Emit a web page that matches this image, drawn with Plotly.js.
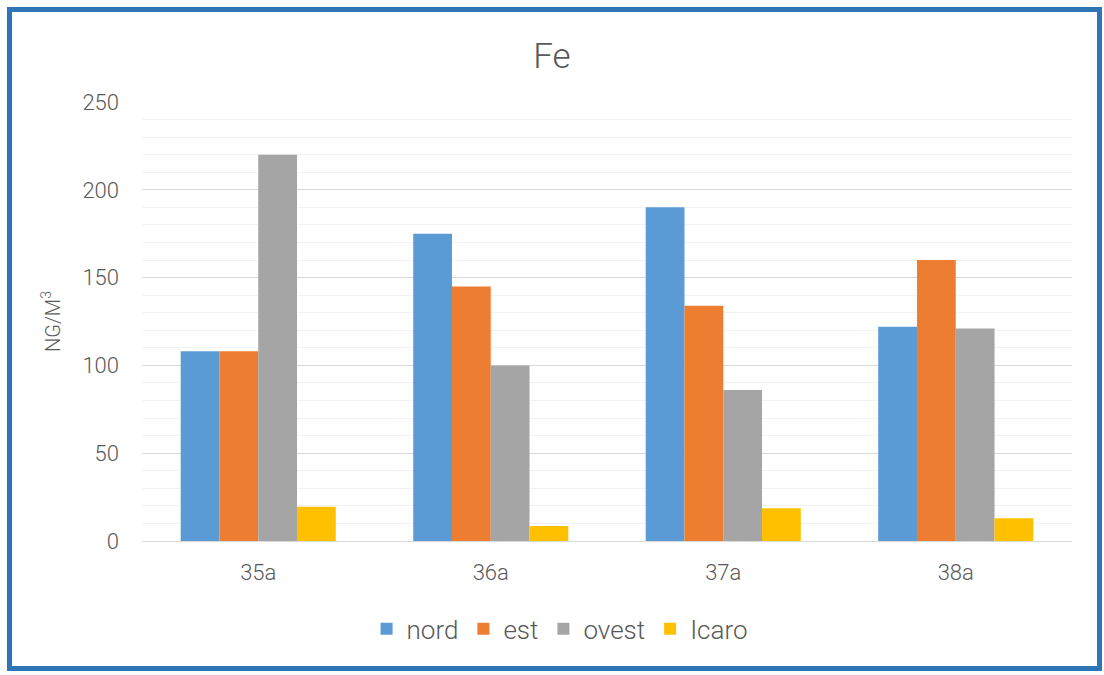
<!DOCTYPE html>
<html>
<head>
<meta charset="utf-8">
<script src="https://cdn.plot.ly/plotly-3.0.1.min.js"></script>
<style>
html,body{margin:0;padding:0;background:#fff;}
#wrap{position:absolute;left:0;top:0;width:1104px;height:675px;}
#frame{position:absolute;left:7px;top:7px;width:1085px;height:654px;border:5px solid #2E75B6;pointer-events:none;z-index:10;}
#chart{position:absolute;left:0;top:0;width:1104px;height:675px;}
</style>
</head>
<body>
<div id="wrap">
<div id="chart"></div>
<div id="frame"></div>
</div>
<script>
const categories = ["35a", "36a", "37a", "38a"];
const nord  = [108, 175, 190, 122];
const est   = [108, 145, 134, 160];
const ovest = [220, 100, 86, 121];
const icaro = [19.5, 8.5, 18.6, 13];
const seriesNames = ["nord", "est", "ovest", "Icaro"];
const colors = ["#5B9BD5", "#ED7D31", "#A5A5A5", "#FFC000"];
const yTicks = [0, 50, 100, 150, 200, 250];

const values = [nord, est, ovest, icaro];
const traces = values.map((v, i) => ({
  type: "bar",
  name: seriesNames[i],
  x: categories,
  y: v,
  marker: {color: colors[i], line: {width: 0}},
  hoverinfo: "x+y+name"
}));

const font = "Roboto, 'Open Sans', sans-serif";
const txt = "#595959";
const w = 300;
const layout = {
  width: 1104, height: 675,
  paper_bgcolor: "#fff", plot_bgcolor: "#fff",
  margin: {l: 142, r: 32, t: 102, b: 134},
  title: {text: "Fe", font: {family: font, size: 35, color: txt, weight: w}, x: 0.5, xanchor: "center", xref: "container", y: 0.918, yanchor: "middle"},
  barmode: "group",
  bargap: 0.333,
  bargroupgap: 0,
  showlegend: true,
  legend: {orientation: "h", x: 0.449, xanchor: "center", y: -0.2, yanchor: "middle",
           font: {family: font, size: 26, color: txt, weight: w}, itemwidth: 30, tracegroupgap: 0},
  xaxis: {
    type: "category",
    tickfont: {family: font, size: 22, color: txt, weight: w},
    showline: true, linecolor: "#D9D9D9", linewidth: 1,
    ticks: "", showgrid: false, zeroline: false,
    ticklabelstandoff: 12,
    automargin: false
  },
  yaxis: {
    range: [0, 250],
    tickvals: yTicks,
    ticktext: yTicks.map(String),
    tickfont: {family: font, size: 22, color: txt, weight: w},
    ticks: "", ticklen: 0,
    ticklabelstandoff: 22,
    showgrid: true, gridcolor: "#D9D9D9", gridwidth: 1,
    zeroline: false, showline: false,
    minor: {dtick: 10, tick0: 0, showgrid: true, gridcolor: "#F2F2F2", gridwidth: 1, ticks: ""},
    title: {text: "NG/M<sup>3</sup>", font: {family: font, size: 20, color: txt, weight: w}, standoff: 16},
    automargin: false
  },
  font: {family: font, color: txt}
};

Plotly.newPlot("chart", traces, layout, {displayModeBar: false, staticPlot: true});
</script>
</body>
</html>
